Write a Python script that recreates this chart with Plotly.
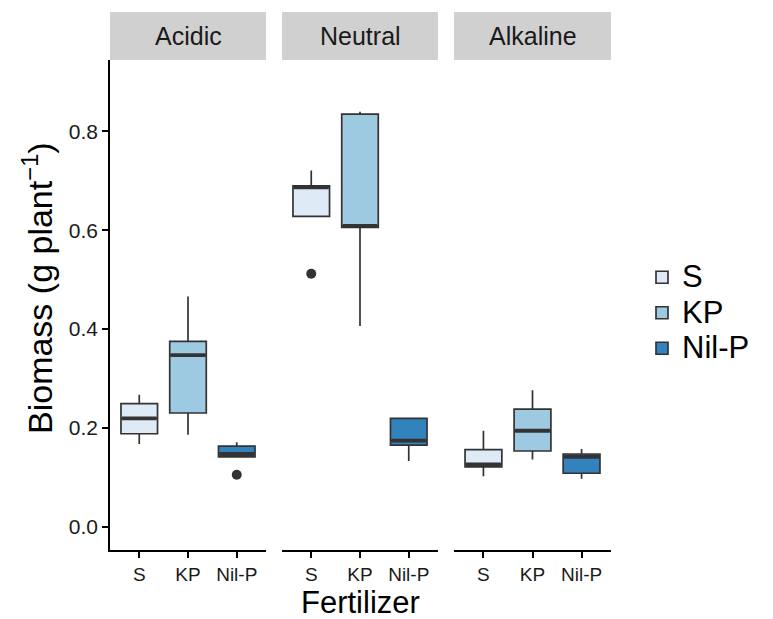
import plotly.graph_objects as go

# ---- data ----
ph_levels = ["Acidic", "Neutral", "Alkaline"]
fertilizers = ["S", "KP", "Nil-P"]
colors = ["#deebf7", "#9ecae1", "#3182bd"]

# per pH level, per fertilizer: lower whisker, q1, median, q3, upper whisker
acidic_lower = [0.167, 0.186, 0.141]
acidic_q1 = [0.188, 0.230, 0.141]
acidic_median = [0.219, 0.347, 0.147]
acidic_q3 = [0.249, 0.375, 0.163]
acidic_upper = [0.267, 0.466, 0.171]

neutral_lower = [0.628, 0.406, 0.133]
neutral_q1 = [0.628, 0.606, 0.165]
neutral_median = [0.687, 0.609, 0.174]
neutral_q3 = [0.690, 0.835, 0.219]
neutral_upper = [0.721, 0.840, 0.219]

alkaline_lower = [0.102, 0.136, 0.097]
alkaline_q1 = [0.121, 0.153, 0.108]
alkaline_median = [0.126, 0.194, 0.141]
alkaline_q3 = [0.156, 0.238, 0.147]
alkaline_upper = [0.194, 0.276, 0.157]

# outliers: (pH level, fertilizer, value)
outlier_ph = ["Acidic", "Neutral"]
outlier_fert = ["Nil-P", "S"]
outlier_val = [0.105, 0.512]

y_ticks = [0.0, 0.2, 0.4, 0.6, 0.8]

stats = {
    "Acidic": (acidic_lower, acidic_q1, acidic_median, acidic_q3, acidic_upper),
    "Neutral": (neutral_lower, neutral_q1, neutral_median, neutral_q3, neutral_upper),
    "Alkaline": (alkaline_lower, alkaline_q1, alkaline_median, alkaline_q3, alkaline_upper),
}

W, H = 773, 619
ML, MR, MT, MB = 110, 162, 60, 69
PW = W - ML - MR
PH = H - MT - MB
domains = [[0.0, 156 / PW], [172 / PW, 328 / PW], [344 / PW, 1.0]]
xnames = ["x", "x2", "x3"]
box_w = 0.75
edge = "#333333"
font_family = "Liberation Sans, Arial, sans-serif"

fig = go.Figure()

for pi, ph in enumerate(ph_levels):
    lo, q1, md, q3, up = stats[ph]
    xa = xnames[pi]
    for fi, fert in enumerate(fertilizers):
        fig.add_trace(go.Box(
            x=[fi], q1=[q1[fi]], median=[md[fi]], q3=[q3[fi]],
            lowerfence=[lo[fi]], upperfence=[up[fi]],
            width=box_w, whiskerwidth=0, boxpoints=False,
            fillcolor=colors[fi], line=dict(color=edge, width=1.7),
            name=f"<span style='font-size:31px'>{fert}</span>",
            legendgroup="fert", showlegend=(pi == 0),
            xaxis=xa, yaxis="y", hoverinfo="skip",
        ))
        # thicker median bar like ggplot
        fig.add_trace(go.Scatter(
            x=[fi - box_w / 2 + 0.02, fi + box_w / 2 - 0.02], y=[md[fi], md[fi]],
            mode="lines", line=dict(color=edge, width=3.8),
            showlegend=False, xaxis=xa, yaxis="y", hoverinfo="skip",
        ))
    # outliers
    ox = [fertilizers.index(f) for p, f in zip(outlier_ph, outlier_fert) if p == ph]
    oy = [v for p, v in zip(outlier_ph, outlier_val) if p == ph]
    if ox:
        fig.add_trace(go.Scatter(
            x=ox, y=oy, mode="markers",
            marker=dict(color=edge, size=10),
            showlegend=False, xaxis=xa, yaxis="y", hoverinfo="skip",
        ))

tick_font = dict(size=19, color="#1a1a1a", family=font_family)
axis_common = dict(
    range=[-0.6, 2.6], tickmode="array", tickvals=[0, 1, 2], ticktext=fertilizers,
    showline=True, linecolor="black", linewidth=1.7, ticks="outside",
    ticklen=6, tickwidth=1.7, tickcolor="black", showgrid=False, zeroline=False,
    tickfont=tick_font, anchor="y",
)
layout = dict(
    width=W, height=H,
    margin=dict(l=ML, r=MR, t=MT, b=MB),
    plot_bgcolor="white", paper_bgcolor="white",
    boxmode="overlay",
    font=dict(family=font_family, color="black"),
    yaxis=dict(
        range=[-0.0474, 0.9447], tickvals=y_ticks, ticktext=[f"{v:.1f}" for v in y_ticks],
        showline=True, linecolor="black", linewidth=1.7, ticks="outside",
        ticklen=6, tickwidth=1.7, tickcolor="black", showgrid=False, zeroline=False,
        tickfont=dict(size=21, color="#1a1a1a", family=font_family), anchor="x",
    ),
    legend=dict(
        x=(642 - ML) / PW, xanchor="left", y=(550 - 313) / PH, yanchor="middle",
        font=dict(size=25, family=font_family, color="black"),
        tracegroupgap=0, bgcolor="rgba(0,0,0,0)",
    ),
)
for i, xa in enumerate(xnames):
    key = "xaxis" if i == 0 else f"xaxis{i + 1}"
    layout[key] = dict(axis_common, domain=domains[i])
fig.update_layout(**layout)

shapes = []
annotations = []
strip_top = 1 + 48 / PH
for i, ph in enumerate(ph_levels):
    shapes.append(dict(type="rect", xref="paper", yref="paper",
                       x0=domains[i][0], x1=domains[i][1], y0=1.0, y1=strip_top,
                       fillcolor="#d0d0d0", line=dict(width=0), layer="below"))
    annotations.append(dict(text=ph, xref="paper", yref="paper",
                            x=(domains[i][0] + domains[i][1]) / 2, y=(1 + strip_top) / 2,
                            showarrow=False, xanchor="center", yanchor="middle",
                            font=dict(size=25, color="#1a1a1a", family=font_family)))
annotations.append(dict(text="Fertilizer", xref="paper", yref="paper",
                        x=0.5, y=-(602 - 550) / PH, showarrow=False,
                        xanchor="center", yanchor="middle",
                        font=dict(size=31, color="black", family=font_family)))
annotations.append(dict(text="Biomass (g plant<sup>−1</sup>)", xref="paper", yref="paper",
                        x=-(ML - 37) / PW, y=(550 - 288) / PH, showarrow=False,
                        textangle=-90, xanchor="center", yanchor="middle",
                        font=dict(size=34, color="black", family=font_family)))
fig.update_layout(shapes=shapes, annotations=annotations)

fig.write_html("out.html", config={"displayModeBar": False},
               post_script="document.body.style.margin='0px';")
